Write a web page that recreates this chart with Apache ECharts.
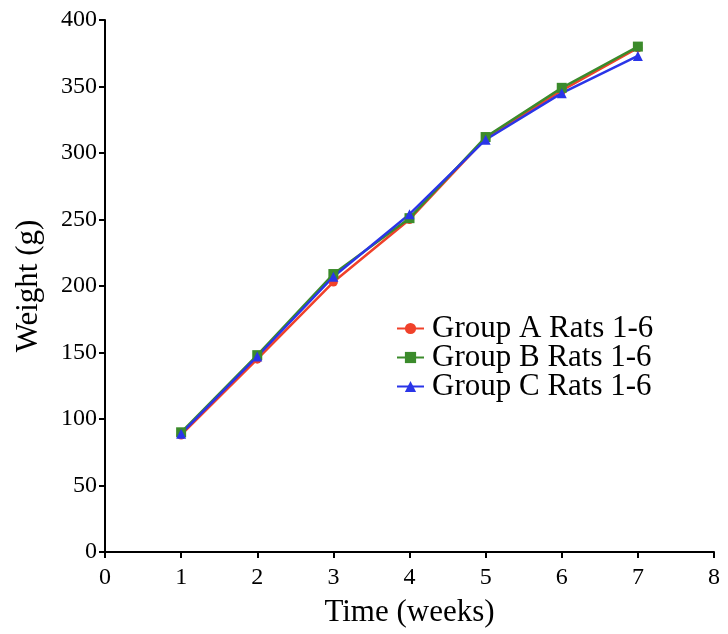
<!DOCTYPE html>
<html>
<head>
<meta charset="utf-8">
<script src="https://cdn.jsdelivr.net/npm/echarts@6/dist/echarts.min.js"></script>
<style>html,body{margin:0;padding:0;background:#fff}#c{width:728px;height:634px}</style>
</head>
<body>
<div id="c"></div>
<script>
var weeks = [1, 2, 3, 4, 5, 6, 7];
var groupA = [88, 145, 203, 250, 311, 347, 379];
var groupB = [90, 148, 209, 251, 312, 349, 380];
var groupC = [89, 147, 207, 254, 310, 345, 373];
var seriesNames = ['Group A Rats 1-6', 'Group B Rats 1-6', 'Group C Rats 1-6'];
var xTicks = [0, 1, 2, 3, 4, 5, 6, 7, 8];
var yTicks = [0, 50, 100, 150, 200, 250, 300, 350, 400];

function pairs(v) { return weeks.map(function (w, i) { return [w, v[i]]; }); }

var font = '"Liberation Serif", "DejaVu Serif", serif';
var chart = echarts.init(document.getElementById('c'));
var colors = ['#f0412a', '#3b8b2b', '#2a35e8'];
var symbols = ['circle', 'rect', 'triangle'];
var sizes = [9, 10, 10];
var data = [groupA, groupB, groupC];

chart.setOption({
  animation: false,
  grid: { left: 105, right: 14, top: 20, bottom: 82 },
  legend: {
    left: 391, top: 308, orient: 'vertical', itemGap: -2,
    itemWidth: 27, itemHeight: 14,
    textStyle: { fontFamily: font, fontSize: 31, lineHeight: 29, color: '#000', padding: [0, 0, 0, 3] },
    data: seriesNames
  },
  xAxis: {
    type: 'value', min: 0, max: 8, interval: 1,
    name: 'Time (weeks)', nameLocation: 'middle', nameGap: 45,
    nameTextStyle: { fontFamily: font, fontSize: 31, color: '#000' },
    axisLine: { show: true, onZero: false, lineStyle: { color: '#000', width: 2 } },
    axisTick: { show: true, inside: false, length: 6, lineStyle: { color: '#000', width: 2 } },
    axisLabel: { fontFamily: font, fontSize: 24, color: '#000', margin: 14,
      formatter: function (v) { return xTicks.indexOf(v) >= 0 ? String(v) : ''; } },
    splitLine: { show: false }
  },
  yAxis: {
    type: 'value', min: 0, max: 400, interval: 50,
    name: 'Weight (g)', nameLocation: 'middle', nameGap: 61, nameRotate: 90,
    nameTextStyle: { fontFamily: font, fontSize: 31, color: '#000' },
    axisLine: { show: true, onZero: false, lineStyle: { color: '#000', width: 2 } },
    axisTick: { show: true, inside: false, length: 6, lineStyle: { color: '#000', width: 2 } },
    axisLabel: { fontFamily: font, fontSize: 24, color: '#000', margin: 8,
      formatter: function (v) { return yTicks.indexOf(v) >= 0 ? String(v) : ''; } },
    splitLine: { show: false }
  },
  series: seriesNames.map(function (n, i) {
    return {
      name: n, type: 'line', data: pairs(data[i]),
      symbol: symbols[i], symbolSize: sizes[i],
      itemStyle: { color: colors[i] },
      lineStyle: { color: colors[i], width: 2.5 }
    };
  })
});
</script>
</body>
</html>
